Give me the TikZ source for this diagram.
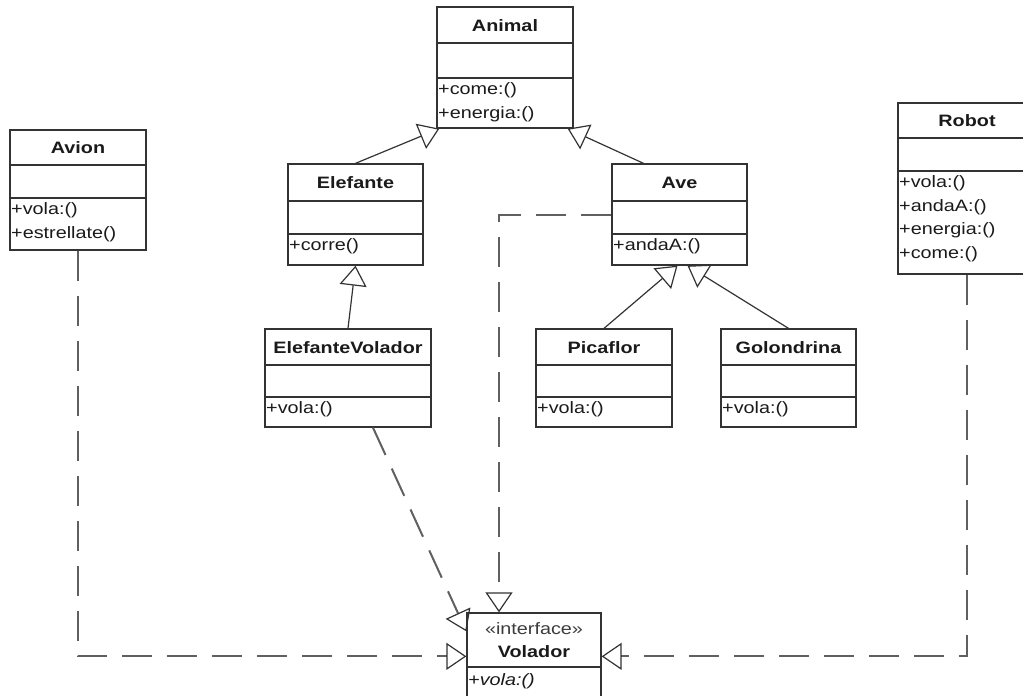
\documentclass[tikz,border=0pt]{standalone}
\usepackage{fontspec}
\setmainfont{Liberation Sans}[FakeStretch=1.2]
\usetikzlibrary{arrows.meta,fit,calc}
\definecolor{boxcol}{HTML}{333333}
\definecolor{dashcol}{HTML}{606060}
\definecolor{txtcol}{HTML}{1A1A1A}
\tikzset{
  classbox/.style={draw=boxcol, line width=1.3pt, inner sep=0pt},
  boxline/.style={draw=boxcol, line width=1.3pt},
  titletext/.style={anchor=base, inner sep=0pt, font=\fontsize{16.5}{23}\selectfont\bfseries, text=txtcol},
  methtext/.style={anchor=base west, inner sep=0pt, font=\fontsize{16.5}{23}\selectfont, text=txtcol},
  gen/.style={draw=boxcol, line width=1.2pt, -{Triangle[open,length=20pt,width=27pt,line width=1.2pt]}},
  real/.style={draw=dashcol, line width=2pt, dash pattern=on 30pt off 15pt,
    -{Triangle[open,length=20pt,width=27pt,line width=1.2pt,color=boxcol]}}
}
% name, x1, y1, x2, y2, header bottom, attr bottom, title, methods
\newcommand{\umlclass}[9]{%
  \coordinate (#1-nw) at (#2,#3);
  \coordinate (#1-se) at (#4,#5);
  \node[classbox, fit=(#1-nw)(#1-se)] (#1) {};
  \draw[boxline] (#2,#6) -- (#4,#6);
  \draw[boxline] (#2,#7) -- (#4,#7);
  \node[titletext] at ({(#2+#4)/2},{(#3+#6)/2+6}) {#8};
  \foreach \t [count=\i from 0] in {#9}
    \node[methtext] at ({#2+1},{#7+16.5+23.5*\i}) {\t};
}
\begin{document}
\begin{tikzpicture}[x=1pt,y=-1pt]
\useasboundingbox (0,0) rectangle (1023,696);

\umlclass{Animal}{437}{7}{573}{128}{43}{78}{Animal}{+come:(),+energia:()}
\umlclass{Avion}{10}{130}{146}{250}{165}{198}{Avion}{+vola:(),+estrellate()}
\umlclass{Elefante}{288}{164}{423}{265}{201}{234}{Elefante}{+corre()}
\umlclass{Ave}{612}{164}{747}{265}{201}{234}{Ave}{+andaA:()}
\umlclass{Robot}{898}{103}{1036}{274}{138}{171}{Robot}{+vola:(),+andaA:(),+energia:(),+come:()}
\umlclass{ElefanteVolador}{265}{329}{431}{427}{365}{397}{ElefanteVolador}{+vola:()}
\umlclass{Picaflor}{536}{329}{672}{427}{365}{397}{Picaflor}{+vola:()}
\umlclass{Golondrina}{721}{329}{856}{427}{365}{397}{Golondrina}{+vola:()}

% interface Volador
\coordinate (Volador-nw) at (467,613);
\coordinate (Volador-se) at (601,720);
\node[classbox, fit=(Volador-nw)(Volador-se)] (Volador) {};
\draw[boxline] (467,667) -- (601,667);
\node[anchor=base, inner sep=0pt, font=\fontsize{16.5}{23}\selectfont, text=txtcol!85] at (534,634) {«interface»};
\node[titletext] at (534,657) {Volador};
\node[methtext, font=\fontsize{16.5}{23}\selectfont\itshape] at (468,685) {+vola:()};

% generalizations
\draw[gen] (Elefante.north) -- ([xshift=3pt]Animal.south west);
\draw[gen] ([xshift=-36pt]Ave.north) -- ([xshift=-6pt]Animal.south east);
\draw[gen] (ElefanteVolador.north) -- (Elefante.south);
\draw[gen] (Picaflor.north) -- ([xshift=-2pt]Ave.south);
\draw[gen] (Golondrina.north) -- ([xshift=8pt]Ave.south);

% realizations
\draw[real] (Ave.west) -| ([xshift=-35pt]Volador.north);
\draw[real] ([xshift=25pt]ElefanteVolador.south) -- ([yshift=-19pt]Volador.north west);
\draw[real] (Avion.south) |- ([yshift=-44pt]Volador.north west);
\draw[real] (Robot.south) |- ([yshift=-44pt]Volador.north east);
\end{tikzpicture}
\end{document}
